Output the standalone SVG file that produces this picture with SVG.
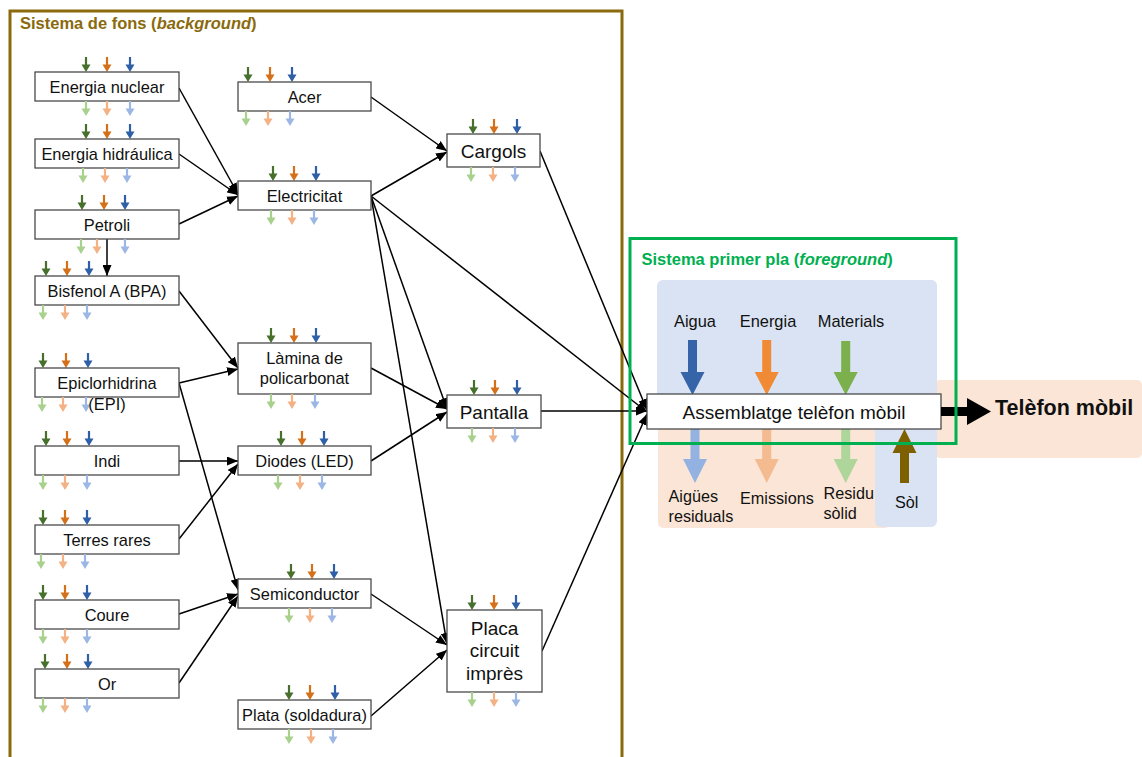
<svg xmlns="http://www.w3.org/2000/svg" xmlns:xlink="http://www.w3.org/1999/xlink" width="1142" height="757" viewBox="0 0 1142 757">
  <style>
    text { font-family: "Liberation Sans", Arial, sans-serif; fill: #111; }
    .box { fill: #fff; stroke: #4a4a4a; stroke-width: 1.3; }
    .t16 { font-size: 16.4px; text-anchor: middle; }
    .t19 { font-size: 19px; text-anchor: middle; }
    .lbl { font-size: 16.2px; }
    .conn { fill: none; stroke: #000; stroke-width: 1.5; marker-end: url(#head); }
    .g1 { fill: #47702d; }
    .o1 { fill: #d5701a; }
    .b1 { fill: #2f5fa6; }
    .g2 { fill: #a9d18e; }
    .o2 { fill: #f4b183; }
    .b2 { fill: #9db7e5; }
    .frame-bg { fill: none; stroke: #8a6a0c; stroke-width: 3; }
    .frame-fg { fill: none; stroke: #00b050; stroke-width: 3; }
  </style>
  <defs>
    <!-- small flow arrow, tip at the origin -->
    <path id="dn" d="M-1.1,-15 H1.1 V-7.5 H4.5 L0,0 L-4.5,-7.5 H-1.1 Z"/>
    <marker id="head" markerUnits="userSpaceOnUse" markerWidth="11" markerHeight="9" refX="11" refY="4.5" orient="auto">
      <path d="M0,0 L11,4.5 L0,9 Z" fill="#000"/>
    </marker>
  </defs>

  <rect width="1142" height="757" fill="#fff"/>

  <!-- background system frame -->
  <g id="background-system">
    <rect class="frame-bg" x="10" y="11" width="612" height="760"/>
    <text x="20" y="29" font-size="16.5" font-weight="bold" style="fill:#8a6a0c">Sistema de fons (<tspan font-style="italic">background</tspan>)</text>
  </g>

  <!-- foreground shaded areas -->
  <g id="foreground-areas">
    <rect x="935" y="380" width="207" height="78" rx="5" fill="#fbe5d6"/>
    <rect x="658" y="400" width="232" height="128" rx="5" fill="#fbe5d6"/>
    <rect x="657" y="280" width="280" height="145" rx="6" fill="#dae3f3"/>
    <rect x="875" y="280" width="62" height="247" rx="6" fill="#dae3f3"/>
  </g>

  <!-- connectors -->
  <g id="connectors">
    <path class="conn" d="M179,88 L238,194"/>
    <path class="conn" d="M179,154 L238,195"/>
    <path class="conn" d="M179,224 L238,196"/>
    <path class="conn" d="M107,239 L107,276"/>
    <path class="conn" d="M371,97 L447,151"/>
    <path class="conn" d="M371,196 L447,152"/>
    <path class="conn" d="M371,196 L647,412"/>
    <path class="conn" d="M371,196 L447,409"/>
    <path class="conn" d="M371,196 L447,644"/>
    <path class="conn" d="M179,291 L238,368"/>
    <path class="conn" d="M179,383 L238,369"/>
    <path class="conn" d="M179,383 L238,590"/>
    <path class="conn" d="M179,461 L238,461"/>
    <path class="conn" d="M179,539 L238,464"/>
    <path class="conn" d="M179,614 L238,594"/>
    <path class="conn" d="M179,683 L238,596"/>
    <path class="conn" d="M371,368 L447,409"/>
    <path class="conn" d="M371,461 L447,412"/>
    <path class="conn" d="M371,594 L447,645"/>
    <path class="conn" d="M371,716 L447,650"/>
    <path class="conn" d="M540,151 L647,410"/>
    <path class="conn" d="M541,411 L647,411"/>
    <path class="conn" d="M542,651 L647,414"/>
  </g>

  <!-- left column -->
  <g id="energia-nuclear">
    <use href="#dn" x="86" y="72" class="g1"/><use href="#dn" x="107" y="72" class="o1"/><use href="#dn" x="130" y="72" class="b1"/>
    <rect class="box" x="35" y="72" width="144" height="29"/>
    <text class="t16" x="107" y="93">Energia nuclear</text>
    <use href="#dn" x="86" y="116" class="g2"/><use href="#dn" x="107" y="116" class="o2"/><use href="#dn" x="130" y="116" class="b2"/>
  </g>
  <g id="energia-hidraulica">
    <use href="#dn" x="86" y="139" class="g1"/><use href="#dn" x="107" y="139" class="o1"/><use href="#dn" x="130" y="139" class="b1"/>
    <rect class="box" x="35" y="139" width="144" height="29"/>
    <text class="t16" x="107" y="160">Energia hidráulica</text>
    <use href="#dn" x="83" y="183" class="g2"/><use href="#dn" x="105" y="183" class="o2"/><use href="#dn" x="127" y="183" class="b2"/>
  </g>
  <g id="petroli">
    <use href="#dn" x="82" y="210" class="g1"/><use href="#dn" x="104" y="210" class="o1"/><use href="#dn" x="125" y="210" class="b1"/>
    <rect class="box" x="35" y="210" width="144" height="29"/>
    <text class="t16" x="107" y="231">Petroli</text>
    <use href="#dn" x="81" y="254" class="g2"/><use href="#dn" x="97" y="254" class="o2"/><use href="#dn" x="125" y="254" class="b2"/>
  </g>
  <g id="bisfenol">
    <use href="#dn" x="46" y="276" class="g1"/><use href="#dn" x="67" y="276" class="o1"/><use href="#dn" x="89" y="276" class="b1"/>
    <rect class="box" x="35" y="276" width="144" height="29"/>
    <text class="t16" x="107" y="297">Bisfenol A (BPA)</text>
    <use href="#dn" x="43" y="320" class="g2"/><use href="#dn" x="65" y="320" class="o2"/><use href="#dn" x="87" y="320" class="b2"/>
  </g>
  <g id="epiclorhidrina">
    <use href="#dn" x="43" y="368" class="g1"/><use href="#dn" x="66" y="368" class="o1"/><use href="#dn" x="88" y="368" class="b1"/>
    <rect class="box" x="35" y="368" width="144" height="29"/>
    <use href="#dn" x="42" y="412" class="g2"/><use href="#dn" x="63" y="412" class="o2"/><use href="#dn" x="86" y="412" class="b2"/>
    <text class="t16" x="107" y="389">Epiclorhidrina</text>
    <text class="t16" x="107" y="410">(EPI)</text>
  </g>
  <g id="indi">
    <use href="#dn" x="46" y="446" class="g1"/><use href="#dn" x="67" y="446" class="o1"/><use href="#dn" x="89" y="446" class="b1"/>
    <rect class="box" x="35" y="446" width="144" height="29"/>
    <text class="t16" x="107" y="467">Indi</text>
    <use href="#dn" x="43" y="490" class="g2"/><use href="#dn" x="65" y="490" class="o2"/><use href="#dn" x="87" y="490" class="b2"/>
  </g>
  <g id="terres-rares">
    <use href="#dn" x="43" y="525" class="g1"/><use href="#dn" x="65" y="525" class="o1"/><use href="#dn" x="87" y="525" class="b1"/>
    <rect class="box" x="35" y="525" width="144" height="29"/>
    <text class="t16" x="107" y="546">Terres rares</text>
    <use href="#dn" x="41" y="569" class="g2"/><use href="#dn" x="63" y="569" class="o2"/><use href="#dn" x="85" y="569" class="b2"/>
  </g>
  <g id="coure">
    <use href="#dn" x="43" y="600" class="g1"/><use href="#dn" x="65" y="600" class="o1"/><use href="#dn" x="87" y="600" class="b1"/>
    <rect class="box" x="35" y="600" width="144" height="29"/>
    <text class="t16" x="107" y="621">Coure</text>
    <use href="#dn" x="43" y="644" class="g2"/><use href="#dn" x="65" y="644" class="o2"/><use href="#dn" x="87" y="644" class="b2"/>
  </g>
  <g id="or">
    <use href="#dn" x="45" y="669" class="g1"/><use href="#dn" x="67" y="669" class="o1"/><use href="#dn" x="88" y="669" class="b1"/>
    <rect class="box" x="35" y="669" width="144" height="29"/>
    <text class="t16" x="107" y="690">Or</text>
    <use href="#dn" x="43" y="713" class="g2"/><use href="#dn" x="65" y="713" class="o2"/><use href="#dn" x="87" y="713" class="b2"/>
  </g>

  <!-- middle column -->
  <g id="acer">
    <use href="#dn" x="248" y="82" class="g1"/><use href="#dn" x="270" y="82" class="o1"/><use href="#dn" x="292" y="82" class="b1"/>
    <rect class="box" x="238" y="82" width="133" height="29"/>
    <text class="t16" x="304.5" y="103">Acer</text>
    <use href="#dn" x="246" y="126" class="g2"/><use href="#dn" x="268" y="126" class="o2"/><use href="#dn" x="290" y="126" class="b2"/>
  </g>
  <g id="electricitat">
    <use href="#dn" x="273" y="181" class="g1"/><use href="#dn" x="294" y="181" class="o1"/><use href="#dn" x="316" y="181" class="b1"/>
    <rect class="box" x="238" y="181" width="133" height="29"/>
    <text class="t16" x="304.5" y="202">Electricitat</text>
    <use href="#dn" x="271" y="225" class="g2"/><use href="#dn" x="292" y="225" class="o2"/><use href="#dn" x="314" y="225" class="b2"/>
  </g>
  <g id="lamina-policarbonat">
    <use href="#dn" x="271" y="343" class="g1"/><use href="#dn" x="294" y="343" class="o1"/><use href="#dn" x="316" y="343" class="b1"/>
    <rect class="box" x="238" y="343" width="133" height="51"/>
    <text class="t16" x="304.5" y="364">Làmina de</text>
    <text class="t16" x="304.5" y="384">policarbonat</text>
    <use href="#dn" x="271" y="409" class="g2"/><use href="#dn" x="292" y="409" class="o2"/><use href="#dn" x="315" y="409" class="b2"/>
  </g>
  <g id="diodes">
    <use href="#dn" x="281" y="446" class="g1"/><use href="#dn" x="302" y="446" class="o1"/><use href="#dn" x="324" y="446" class="b1"/>
    <rect class="box" x="238" y="446" width="133" height="29"/>
    <text class="t16" x="304.5" y="467">Diodes (LED)</text>
    <use href="#dn" x="278" y="490" class="g2"/><use href="#dn" x="300" y="490" class="o2"/><use href="#dn" x="322" y="490" class="b2"/>
  </g>
  <g id="semiconductor">
    <use href="#dn" x="291" y="579" class="g1"/><use href="#dn" x="312" y="579" class="o1"/><use href="#dn" x="334" y="579" class="b1"/>
    <rect class="box" x="238" y="579" width="133" height="29"/>
    <text class="t16" x="304.5" y="600">Semiconductor</text>
    <use href="#dn" x="289" y="623" class="g2"/><use href="#dn" x="310" y="623" class="o2"/><use href="#dn" x="332" y="623" class="b2"/>
  </g>
  <g id="plata">
    <use href="#dn" x="289" y="700" class="g1"/><use href="#dn" x="310" y="700" class="o1"/><use href="#dn" x="335" y="700" class="b1"/>
    <rect class="box" x="238" y="700" width="133" height="29"/>
    <text class="t16" x="304.5" y="721">Plata (soldadura)</text>
    <use href="#dn" x="289" y="744" class="g2"/><use href="#dn" x="311" y="744" class="o2"/><use href="#dn" x="333" y="744" class="b2"/>
  </g>

  <!-- component column -->
  <g id="cargols">
    <use href="#dn" x="473" y="134" class="g1"/><use href="#dn" x="494" y="134" class="o1"/><use href="#dn" x="517" y="134" class="b1"/>
    <rect class="box" x="447" y="134" width="93" height="33"/>
    <text class="t19" x="493.5" y="158">Cargols</text>
    <use href="#dn" x="471" y="182" class="g2"/><use href="#dn" x="493" y="182" class="o2"/><use href="#dn" x="515" y="182" class="b2"/>
  </g>
  <g id="pantalla">
    <use href="#dn" x="474" y="395" class="g1"/><use href="#dn" x="495" y="395" class="o1"/><use href="#dn" x="517" y="395" class="b1"/>
    <rect class="box" x="447" y="395" width="94" height="33"/>
    <text class="t19" x="494" y="419">Pantalla</text>
    <use href="#dn" x="472" y="443" class="g2"/><use href="#dn" x="493" y="443" class="o2"/><use href="#dn" x="515" y="443" class="b2"/>
  </g>
  <g id="placa-circuit">
    <use href="#dn" x="472" y="610" class="g1"/><use href="#dn" x="494" y="610" class="o1"/><use href="#dn" x="516" y="610" class="b1"/>
    <rect class="box" x="447" y="610" width="95" height="82"/>
    <text class="t19" x="494.5" y="634.5">Placa</text>
    <text class="t19" x="494.5" y="657">circuit</text>
    <text class="t19" x="494.5" y="680">imprès</text>
    <use href="#dn" x="472" y="707" class="g2"/><use href="#dn" x="494" y="707" class="o2"/><use href="#dn" x="516" y="707" class="b2"/>
  </g>

  <!-- foreground flows -->
  <g id="foreground-flows">
    <text class="t16" x="695" y="327">Aigua</text>
    <text class="t16" x="768" y="327">Energia</text>
    <text class="t16" x="851" y="327">Materials</text>
    <path d="M688,340 H697 V372 H704.5 L692.5,395 L680.5,372 H688 Z" fill="#3565a8"/>
    <path d="M762.2,340 H771.2 V372 H778.7 L766.7,395 L754.7,372 H762.2 Z" fill="#f08a34"/>
    <path d="M841.2,341 H850.2 V372 H857.7 L845.7,395 L833.7,372 H841.2 Z" fill="#7bb04c"/>
    <path d="M690.5,425 H699.5 V459 H707 L695,483 L683,459 H690.5 Z" fill="#93b2e1"/>
    <path d="M762.2,425 H771.2 V459 H778.7 L766.7,483 L754.7,459 H762.2 Z" fill="#f4ba90"/>
    <path d="M841.2,425 H850.2 V459 H857.7 L845.7,483 L833.7,459 H841.2 Z" fill="#aed69a"/>
    <path d="M900,483 H909 V453 H916.5 L904.5,429 L892.5,453 H900 Z" fill="#7f6000"/>
    <text class="lbl" x="668.5" y="502">Aigües</text>
    <text class="lbl" x="668.5" y="522">residuals</text>
    <text class="lbl" x="740" y="504">Emissions</text>
    <text class="lbl" x="823.5" y="499">Residu</text>
    <text class="lbl" x="823.5" y="519">sòlid</text>
    <text class="lbl" x="895" y="508">Sòl</text>
  </g>

  <!-- assembly process and product output -->
  <g id="assemblatge">
    <rect class="box" x="647" y="394" width="294" height="35"/>
    <text class="t19" x="794" y="419">Assemblatge telèfon mòbil</text>
  </g>
  <g id="telefon-mobil">
    <path d="M941,407 H967 V398 L991,411.5 L967,425 V416 H941 Z" fill="#000"/>
    <text x="995" y="415" font-size="21.5" font-weight="bold">Telèfon mòbil</text>
  </g>

  <!-- foreground system frame -->
  <g id="foreground-system">
    <rect class="frame-fg" x="630" y="238.5" width="326" height="205"/>
    <text x="641.5" y="265" font-size="16.5" font-weight="bold" style="fill:#00b050">Sistema primer pla (<tspan font-style="italic">foreground</tspan>)</text>
  </g>
</svg>
